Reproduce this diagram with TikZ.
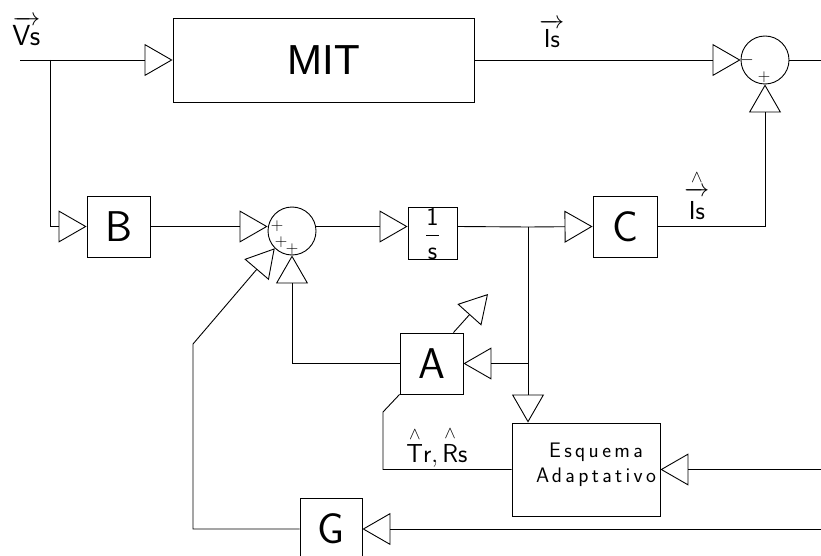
\documentclass[tikz,border=0pt]{standalone}
\usepackage{amsmath}
\usepackage{fontspec}
\newfontfamily\mitfont{Liberation Sans}
\newfontfamily\cadfont[LetterSpace=16]{Latin Modern Sans}
\usetikzlibrary{arrows.meta}

\begin{document}
\begin{tikzpicture}[x=1pt,y=-1pt,line width=0.9pt,
 blk/.style={draw,inner sep=0pt,minimum width=63pt,minimum height=61pt,font=\sffamily\fontsize{43}{43}\selectfont},
 sum/.style={draw,circle,inner sep=0pt,minimum size=48pt},
 sgn/.style={inner sep=0pt,font=\fontsize{17}{17}\selectfont},
 lbl/.style={inner sep=0pt,anchor=base west,font=\fontsize{26}{26}\selectfont},
 line/.style={-{Triangle[open,length=28pt,width=32pt]}}]
\useasboundingbox[fill=white] (0,0) rectangle (821,556);
% blocks
\node[blk,minimum width=301pt,minimum height=84pt,font=\mitfont\fontsize{42}{42}\selectfont] (mit) at (323.5,60) {MIT\hspace{28pt}};
\node[blk] (B) at (118.5,226.5) {B};
\node[blk,minimum width=49pt,minimum height=49pt,font=\fontsize{26}{26}\selectfont] (inv) at (432.5,233.5) {$\dfrac{\textsf{1}}{\textsf{s}}$};
\node[blk,minimum width=64pt] (C) at (625,226.5) {C};
\node[blk] (A) at (431.5,363.5) {A};
\node[blk,minimum width=62pt,minimum height=62pt] (G) at (331,529) {G};
\node[blk,minimum width=148pt,minimum height=93pt] (esq) at (586,469.5) {};
\node[inner sep=0pt,align=center,font=\cadfont\fontsize{21}{25}\selectfont] (esqtxt) at (596,465) {Esquema\\Adaptativo};
\node[sum] (s1) at (765,60) {};
\node[sum] (s2) at (292,231) {};
% signs
\node[sgn] at (747,60) {$-$};
\node[sgn] at (764,77) {$+$};
\node[sgn] at (277,226) {$+$};
\node[sgn] at (281,242) {$+$};
\node[sgn] at (292,249) {$+$};
% labels
\node[lbl,font=\fontsize{29}{29}\selectfont] (vs) at (12,46) {$\overrightarrow{\vphantom{\rule{0pt}{0.72em}}\textsf{Vs}}$};
\node[lbl] (is) at (539,48) {$\overrightarrow{\vphantom{\rule{0pt}{0.75em}}\textsf{Is}}$};
\node[lbl] (ish) at (684,219) {$\overset{\wedge}{\overrightarrow{\vphantom{\rule{0pt}{0.85em}}\textsf{Is}}}$};
\node[lbl] (par) at (406,462) {$\overset{\wedge}{\textsf{T}}\textsf{r},\overset{\wedge}{\textsf{R}}\textsf{s}$};
% free ends
\coordinate (in) at (20,60);
\coordinate (br) at (50,60);
\coordinate (out) at (821,60);
\coordinate (j) at (528,227);
\coordinate (r1) at (821,469.5);
\coordinate (r2) at (821,529);
\coordinate (gb) at (193,344);
\coordinate (ab) at (383,412);
\coordinate (aout) at (488,294);
% connections
\draw[line] (in) -- (mit.west);
\draw[line] (mit.east) -- (mit.east -| s1.west);
\draw (s1.east) -- (out);
\draw[line] (br) |- (B.west);
\draw[line] (B.east) -- (B.east -| s2.west);
\draw[line] (s2.east |- B.east) -- (inv.west |- B.east);
\draw (inv.east |- B.east) -- (j);
\draw[line] (j) -- (C.west);
\draw[line] (C.east) -| (s1.south);
\draw[line] (j) |- (A.east);
\draw[line] (j) -- (j |- esq.north);
\draw[line] (A.west) -| (s2.south);
\draw[line] ([xshift=-10pt]A.north east) -- (aout);
\draw (A.south west) -- (ab) |- (esq.west);
\draw[line] (r1) -- (esq.east);
\draw[line] (r2) -- (G.east);
\draw[line] (G.west) -| (gb) -- (s2.225);
\end{tikzpicture}
\end{document}
